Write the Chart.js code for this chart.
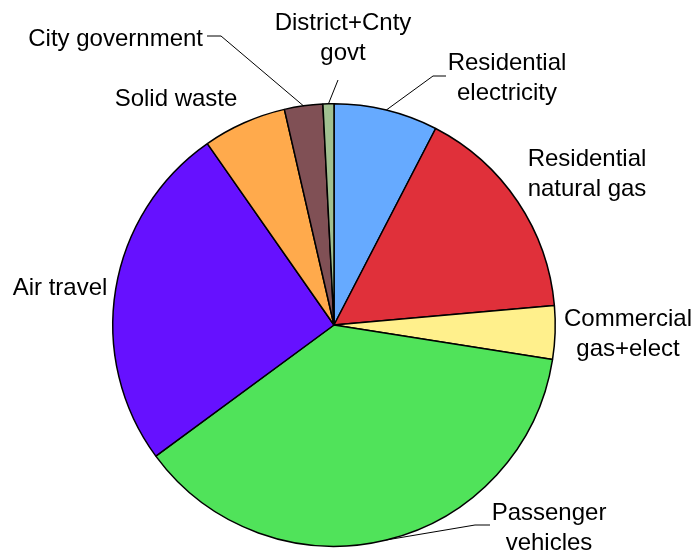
<!DOCTYPE html>
<html>
<head>
<meta charset="utf-8">
<script src="https://cdn.jsdelivr.net/npm/chart.js@4/dist/chart.umd.min.js"></script>
<style>
html,body{margin:0;padding:0;background:#fff;}
#wrap{width:695px;height:554px;position:relative;}
</style>
</head>
<body>
<div id="wrap"><canvas id="c" width="695" height="554"></canvas></div>
<script>
// ---- data ----
const categories = [
  "Residential electricity",
  "Residential natural gas",
  "Commercial gas+elect",
  "Passenger vehicles",
  "Air travel",
  "Solid waste",
  "City government",
  "District+Cnty govt"
];
const shares = [7.6, 16.0, 3.9, 37.4, 25.4, 6.1, 2.8, 0.8];
const labelLines = [
  ["Residential", "electricity"],
  ["Residential", "natural gas"],
  ["Commercial", "gas+elect"],
  ["Passenger", "vehicles"],
  ["Air travel"],
  ["Solid waste"],
  ["City government"],
  ["District+Cnty", "govt"]
];
const colors = ["#66AAFF", "#E0303A", "#FFF08C", "#50E35A", "#6611FF", "#FFAA4C", "#805055", "#A0C090"];

// ---- label layout (offsets from pie centre) ----
const labelLayout = [
  {x: 173, y: -262, align: "center", leader: [[99, -249], [112, -249]]},
  {x: 253, y: -166, align: "center"},
  {x: 294, y: -6, align: "center"},
  {x: 215, y: 188, align: "center", leader: [[141, 200], [156, 200]]},
  {x: -274, y: -37, align: "center"},
  {x: -158, y: -226, align: "center"},
  {x: -131, y: -286, align: "right", leader: [[-113, -289], [-127, -289]]},
  {x: 9, y: -302, align: "center", leader: [[4, -245]]}
];
const lineHeight = 30;

const labelPlugin = {
  id: "pieLabels",
  afterDatasetsDraw(chart) {
    const ctx = chart.ctx;
    const meta = chart.getDatasetMeta(0);
    ctx.save();
    ctx.font = "24px 'Liberation Sans', Arial, sans-serif";
    ctx.fillStyle = "#000";
    ctx.textBaseline = "middle";
    meta.data.forEach((arc, i) => {
      const L = labelLayout[i];
      const cx = arc.x, cy = arc.y;
      if (L.leader) {
        const mid = (arc.startAngle + arc.endAngle) / 2;
        const R = arc.outerRadius;
        ctx.beginPath();
        ctx.strokeStyle = "#000";
        ctx.lineWidth = 1;
        ctx.moveTo(cx + Math.cos(mid) * R, cy + Math.sin(mid) * R);
        L.leader.forEach(p => ctx.lineTo(cx + p[0], cy + p[1]));
        ctx.stroke();
      }
      ctx.textAlign = L.align;
      labelLines[i].forEach((t, k) => {
        ctx.fillText(t, cx + L.x, cy + L.y + k * lineHeight);
      });
    });
    ctx.restore();
  }
};

new Chart(document.getElementById("c"), {
  type: "pie",
  data: {
    labels: categories,
    datasets: [{
      data: shares,
      backgroundColor: colors,
      borderColor: "#000",
      borderWidth: 1.5
    }]
  },
  options: {
    responsive: false,
    animation: false,
    layout: {padding: {left: 112, right: 139, top: 103, bottom: 7}},
    plugins: {legend: {display: false}, tooltip: {enabled: false}}
  },
  plugins: [labelPlugin]
});
</script>
</body>
</html>
